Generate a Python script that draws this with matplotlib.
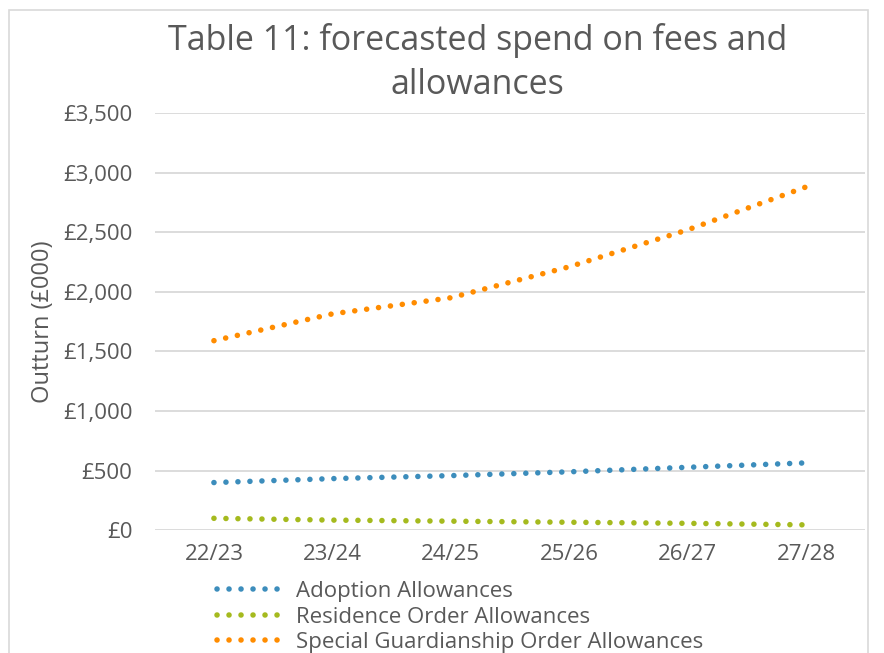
import matplotlib.pyplot as plt
from matplotlib.patches import Rectangle
from matplotlib.ticker import FuncFormatter

plt.rcParams['font.family'] = ['Open Sans', 'DejaVu Sans']

years = ['22/23', '23/24', '24/25', '25/26', '26/27', '27/28']
adoption = [400, 433, 458, 490, 528, 565]
residence = [100, 85, 76, 67, 58, 45]
special_guardianship = [1590, 1815, 1950, 2210, 2520, 2880]

series = [
    ('Adoption Allowances', adoption, '#3C8DBC'),
    ('Residence Order Allowances', residence, '#A5BA1E'),
    ('Special Guardianship Order Allowances', special_guardianship, '#FF8C00'),
]

text_col = '#595959'

fig = plt.figure(figsize=(8.84, 6.53), dpi=100)
ax = fig.add_axes([0.175, 0.188, 0.804, 0.639])

x = range(len(years))
for name, vals, col in series:
    ax.plot(x, vals, color=col, lw=4.0, linestyle=(0, (0.01, 2.15)),
            dash_capstyle='round', label=name)

ax.set_xlim(-0.5, len(years) - 0.5)
ax.set_ylim(0, 3500)
ax.set_yticks(range(0, 3501, 500))
ax.yaxis.set_major_formatter(FuncFormatter(lambda v, p: f'£{v:,.0f}'))
ax.set_xticks(list(x))
ax.set_xticklabels(years)
ax.grid(axis='y', color='#D9D9D9', lw=1.3)
ax.set_axisbelow(True)
for s in ax.spines.values():
    s.set_visible(False)
ax.tick_params(length=0, labelsize=16, colors=text_col, pad=16)
ax.tick_params(axis='x', pad=10)

ax.set_ylabel('Outturn (£000)', fontsize=17, color=text_col, labelpad=6)
fig.text(0.54, 0.904, 'Table 11: forecasted spend on fees and\nallowances',
         ha='center', va='center', fontsize=24.5, color=text_col, linespacing=1.4)

leg = ax.legend(loc='upper left', bbox_to_anchor=(0.075, -0.101), frameon=False,
                fontsize=16, labelcolor=text_col, handlelength=3.0,
                handletextpad=0.55, labelspacing=0.2, borderaxespad=0)

# chart border
fig.patches.append(Rectangle((9 / 884, -0.05), 859 / 884, 1.05 - 10 / 653,
                             transform=fig.transFigure, fill=False,
                             edgecolor='#D9D9D9', lw=1.2))

fig.savefig('out.png', dpi=100)
